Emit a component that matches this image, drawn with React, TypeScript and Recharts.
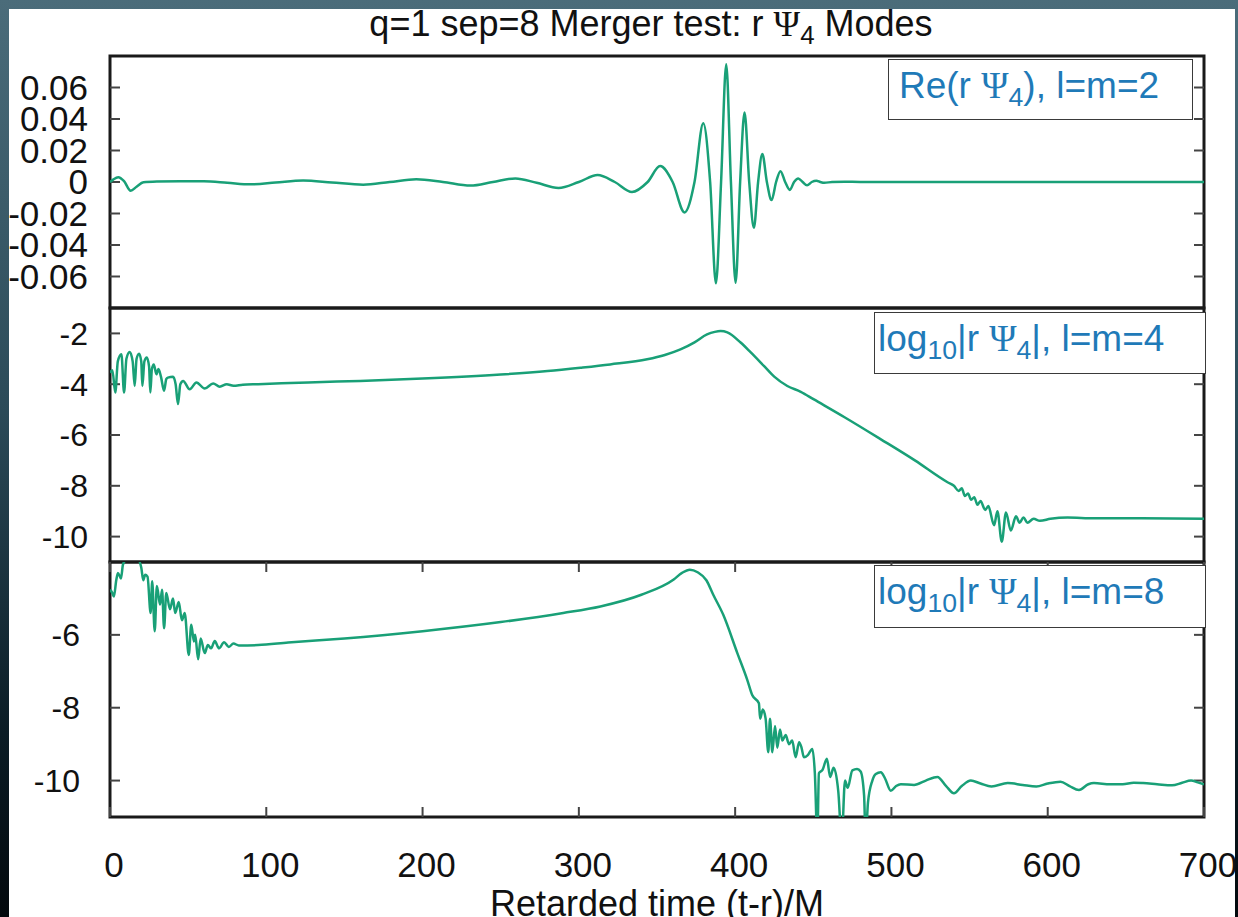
import { LineChart, Line, XAxis, YAxis, ReferenceArea, ReferenceLine } from 'recharts';

// ============================================================================
// Data (t = retarded time, v = value)
// ============================================================================

type Pt = [number, number];

const X_DOMAIN: [number, number] = [0, 700];
const X_TICKS = [0, 100, 200, 300, 400, 500, 600, 700];

const RE22_TICKS = [-0.06, -0.04, -0.02, 0, 0.02, 0.04, 0.06];
const LM4_TICKS = [-10, -8, -6, -4, -2];
const LM8_TICKS = [-10, -8, -6];

// Re(r Psi4), l=m=2
const RE22: Pt[] = [
  [0, 0], [2, 0.0015], [5.3, 0.003], [9, 0.0005], [13.2, -0.0055], [17, -0.003], [21.4, -0.0002],
  [30, 0.0003], [45, 0.0005], [60, 0.0004], [75, -0.0005], [89.7, -0.0015], [106, -0.0003],
  [123.6, 0.001], [142, -0.0003], [162, -0.0017], [179, 0], [196, 0.0017], [213, 0],
  [230.6, -0.0023], [245, 0], [259.4, 0.0023], [273, -0.0005], [287, -0.0038], [300, 0],
  [312, 0.0044], [323, 0], [334, -0.0063], [344, 0], [352, 0.0101], [360, 0], [367.6, -0.0193],
  [374, 0], [379.6, 0.0373], [384, 0], [387.7, -0.0643], [391, 0], [394.3, 0.0747], [397.3, 0],
  [400.3, -0.064], [403.2, 0], [406, 0.0442], [409, 0], [412, -0.0291], [414.7, 0], [417.4, 0.0178],
  [420.3, 0], [423.3, -0.0115], [426.2, 0], [429, 0.0069], [432, 0], [435, -0.005], [437.7, 0],
  [440.4, 0.0023], [443.2, 0], [446, -0.0021], [449, 0], [452, 0.0008], [454.5, 0], [457, -0.0005],
  [462, 0], [470, 0.0002], [480, 0], [500, 0], [550, 0], [600, 0], [650, 0], [700, 0],
];

// log10|r Psi4|, l=m=4
const LM4: Pt[] = [
  [0, -3.55], [1.5, -3.45], [3.4, -4.33], [5, -3.1], [7.3, -2.82], [9, -4.33], [10.5, -3.0],
  [12.6, -2.73], [14.5, -3.1], [15.8, -4.07], [17, -3.0], [18.6, -2.8], [20, -3.1], [20.7, -4.07],
  [22, -3.1], [23.5, -2.95], [25, -3.3], [25.8, -4.33], [26.8, -3.4], [28, -3.22], [29.7, -3.61],
  [31, -3.4], [32.6, -3.7], [34.6, -4.26], [36, -3.8], [37, -3.74], [40.3, -3.71], [42, -4.0],
  [43.5, -4.78], [45, -4.0], [46.8, -3.87], [51, -4.2], [55.3, -3.93], [60.6, -4.17], [66, -3.97],
  [70.2, -4.1], [74.7, -4.0], [79, -4.06], [85, -4.02], [94.8, -4.0], [126.8, -3.93], [160, -3.87],
  [200, -3.78], [250, -3.62], [280, -3.48], [301, -3.35], [320, -3.22], [343.7, -3.02], [355, -2.85],
  [365, -2.63], [374, -2.35], [382, -2.04], [387, -1.94], [390.7, -1.91], [395, -1.96],
  [403.5, -2.36], [410, -2.75], [418.4, -3.28], [425, -3.7], [433.4, -4.07], [442, -4.3],
  [450.4, -4.6], [470, -5.3], [493, -6.16], [515, -7.0], [535.9, -7.86], [540, -8.0], [543, -8.2],
  [545, -8.1], [547, -8.4], [549, -8.3], [551, -8.55], [553, -8.45], [555, -8.75], [557, -8.6],
  [560, -8.95], [562, -8.8], [565.7, -9.55], [567.8, -9.0], [570.6, -10.2], [573.3, -9.05],
  [576.4, -9.76], [579.7, -9.2], [582, -9.45], [584.5, -9.25], [587, -9.45], [591, -9.3],
  [595, -9.38], [601.8, -9.3], [612.7, -9.25], [630, -9.28], [660, -9.28], [700, -9.3],
];

// log10|r Psi4|, l=m=8
const LM8: Pt[] = [
  [0, -4.76], [1.5, -4.85], [2.5, -4.95], [4, -4.5], [5.1, -4.3], [7, -4.45], [8.3, -4.07],
  [10, -3.95], [13, -3.9], [16, -3.95], [18, -3.95], [20, -4.15], [21.3, -4.5], [22.5, -4.35],
  [24, -4.4], [26, -5.4], [27, -4.53], [28.6, -5.9], [30, -4.66], [32, -5.17], [33.3, -4.76],
  [34.6, -5.82], [36, -4.85], [38.4, -5.3], [40.3, -5.0], [41.7, -5.4], [44, -5.1], [46, -5.6],
  [47.8, -5.4], [50.4, -6.55], [52, -5.72], [53.7, -6.18], [54.5, -6.0], [56.4, -6.67], [58, -6.1],
  [60.6, -6.5], [62.6, -6.28], [64.7, -6.37], [67, -6.17], [69.8, -6.37], [73, -6.2], [76, -6.33],
  [79, -6.24], [82.4, -6.29], [94.8, -6.28], [114, -6.21], [150, -6.1], [200, -5.9], [250, -5.65],
  [290, -5.4], [313.8, -5.22], [340, -4.9], [360.7, -4.48], [366, -4.3], [371, -4.21], [376, -4.28],
  [381.6, -4.5], [386, -4.9], [392.4, -5.45], [401.4, -6.5], [407.8, -7.24], [411, -7.66],
  [415.2, -7.88], [416, -8.3], [417.7, -8.05], [419.5, -8.3], [421.2, -9.22], [422.3, -8.3],
  [423.8, -9.22], [425.5, -8.5], [427, -9.1], [428.7, -8.6], [430.2, -8.9], [432.3, -8.75],
  [434.5, -9.0], [436.5, -8.9], [438.7, -9.36], [440.9, -8.95], [442.5, -9.1], [444, -9.36],
  [446.5, -9.3], [449.4, -9.13], [451, -9.8], [452.6, -11.6], [453.6, -9.8], [456, -9.7],
  [458.7, -9.4], [460.8, -9.9], [463, -9.65], [466, -10.3], [468.2, -11.6], [470.3, -10.0],
  [472, -10.2], [475, -9.72], [478, -9.68], [480.3, -9.75], [482.5, -10.4], [483.5, -11.6],
  [485, -10.6], [487.8, -10.0], [490, -9.82], [493.2, -9.77], [496, -9.95], [499.6, -10.28],
  [503, -10.15], [506, -10.1], [514.5, -10.12], [522, -10.0], [529.4, -9.9], [535, -10.15],
  [540, -10.35], [545, -10.15], [550.8, -10.0], [557, -10.08], [564, -10.16], [574.4, -10.07],
  [584, -10.12], [592.7, -10.16], [600, -10.08], [608.2, -10.03], [614, -10.15], [620, -10.26],
  [626, -10.1], [629.6, -10.07], [640, -10.1], [648, -10.1], [655, -10.06], [661, -10.07],
  [670, -10.1], [679.6, -10.13], [686, -10.06], [691.7, -10.0], [696, -10.05], [700, -10.1],
];

// ============================================================================
// Styles
// ============================================================================

const FONT = '"Liberation Sans", Arial, Helvetica, sans-serif';
const LINE_COLOR = '#19a077';
const KEY_COLOR = '#1f7ab8';
const FRAME_COLOR = '#1a1a1a';
const TICK_COLOR = '#444';
const BG = 'linear-gradient(180deg, #4b6c7a 0%, #2b4a58 45%, #0b1c25 80%, #03090d 100%)';

const W = 1238;
const PAD = 5;
const PLOT_W = 1094; // 110 .. 1204
const TICK_PX = 10;

// ============================================================================
// Panel
// ============================================================================

interface PanelProps {
  points: Pt[];
  top: number;
  plotHeight: number;
  yDomain: [number, number];
  yTicks: number[];
  labelSize: number;
  labelGap: number;
  showX?: boolean;
}

function Panel({ points, top, plotHeight, yDomain, yTicks, labelSize, labelGap, showX }: PanelProps) {
  const data = points.map(([t, v]) => ({ t, v }));
  const xHeight = showX ? 80 : 0;
  const [y0, y1] = yDomain;
  // inward tick length (10px) expressed in each axis' units
  const dx = (TICK_PX * (X_DOMAIN[1] - X_DOMAIN[0])) / PLOT_W;
  const dy = (TICK_PX * (y1 - y0)) / plotHeight;

  return (
    <div style={{ position: 'absolute', left: 0, top: top - PAD }}>
      <LineChart
        width={W}
        height={PAD + plotHeight + (showX ? xHeight : PAD)}
        data={data}
        margin={{ top: PAD, right: 34, bottom: showX ? 0 : PAD, left: 10 }}
      >
        <XAxis
          xAxisId="b"
          dataKey="t"
          type="number"
          domain={X_DOMAIN}
          ticks={X_TICKS}
          interval={0}
          allowDataOverflow
          hide={!showX}
          height={xHeight}
          axisLine={false}
          tickLine={false}
          tickSize={0}
          tickMargin={35}
          tick={{ fontSize: 35, fill: '#111', fontFamily: FONT, dx: 4 }}
        />
        <YAxis
          yAxisId="l"
          type="number"
          domain={yDomain}
          ticks={yTicks}
          interval={0}
          allowDataOverflow
          width={100}
          axisLine={false}
          tickLine={false}
          tickSize={0}
          tickMargin={labelGap}
          tick={{ fontSize: labelSize, fill: '#111', fontFamily: FONT }}
        />

        {/* inward ticks, left and right */}
        {yTicks.map((v) => (
          <ReferenceLine
            key={`yl${v}`}
            xAxisId="b"
            yAxisId="l"
            segment={[{ x: X_DOMAIN[0], y: v }, { x: X_DOMAIN[0] + dx, y: v }]}
            stroke={TICK_COLOR}
            strokeWidth={2}
          />
        ))}
        {yTicks.map((v) => (
          <ReferenceLine
            key={`yr${v}`}
            xAxisId="b"
            yAxisId="l"
            segment={[{ x: X_DOMAIN[1] - dx, y: v }, { x: X_DOMAIN[1], y: v }]}
            stroke={TICK_COLOR}
            strokeWidth={2}
          />
        ))}
        {/* inward ticks, bottom and top (only on the lowest panel) */}
        {showX &&
          X_TICKS.map((t) => (
            <ReferenceLine
              key={`xb${t}`}
              xAxisId="b"
              yAxisId="l"
              segment={[{ x: t, y: y0 }, { x: t, y: y0 + dy }]}
              stroke={TICK_COLOR}
              strokeWidth={2}
            />
          ))}
        {showX &&
          X_TICKS.map((t) => (
            <ReferenceLine
              key={`xt${t}`}
              xAxisId="b"
              yAxisId="l"
              segment={[{ x: t, y: y1 - dy }, { x: t, y: y1 }]}
              stroke={TICK_COLOR}
              strokeWidth={2}
            />
          ))}

        <Line
          xAxisId="b"
          yAxisId="l"
          dataKey="v"
          type="monotone"
          stroke={LINE_COLOR}
          strokeWidth={2.5}
          dot={false}
          activeDot={false}
          isAnimationActive={false}
        />

        {/* frame */}
        <ReferenceArea
          xAxisId="b"
          yAxisId="l"
          x1={X_DOMAIN[0]}
          x2={X_DOMAIN[1]}
          y1={y0}
          y2={y1}
          fill="none"
          fillOpacity={0}
          stroke={FRAME_COLOR}
          strokeWidth={3}
          strokeOpacity={1}
          ifOverflow="visible"
        />
      </LineChart>
    </div>
  );
}

// ============================================================================
// Key boxes
// ============================================================================

const sub = { fontSize: '0.72em', verticalAlign: '-0.3em', lineHeight: 0 } as const;
const psi = { fontFamily: '"Liberation Serif", "DejaVu Serif", serif' };

function KeyBox({ left, top, width, height, padLeft, children }: {
  left: number; top: number; width: number; height: number; padLeft: number; children: React.ReactNode;
}) {
  return (
    <div
      style={{
        position: 'absolute',
        left,
        top,
        width,
        height,
        boxSizing: 'border-box',
        border: '1.5px solid #3a3a3a',
        background: '#fff',
        color: KEY_COLOR,
        fontFamily: FONT,
        fontSize: 37,
        lineHeight: '52px',
        paddingLeft: padLeft,
        whiteSpace: 'nowrap',
      }}
    >
      {children}
    </div>
  );
}

// ============================================================================
// App
// ============================================================================

export default function App() {
  return (
    <div style={{ position: 'absolute', left: 0, top: 0, width: W, height: 917, overflow: 'hidden', background: BG }}>
      <div style={{ position: 'absolute', left: 9, top: 9, width: 1226, height: 908, background: '#fff' }} />

      <div
        style={{
          position: 'absolute', left: 51, top: 6, width: 1200, textAlign: 'center',
          fontFamily: FONT, fontSize: 36, lineHeight: '36px', color: '#111', whiteSpace: 'nowrap',
        }}
      >
        q=1 sep=8 Merger test: r <span style={psi}>Ψ</span><span style={sub}>4</span> Modes
      </div>

      <Panel points={RE22} top={56} plotHeight={252} yDomain={[-0.08, 0.08]} yTicks={RE22_TICKS} labelSize={35} labelGap={22} />
      <Panel points={LM4} top={308} plotHeight={254} yDomain={[-11, -1]} yTicks={LM4_TICKS} labelSize={32} labelGap={22} />
      <Panel points={LM8} top={562} plotHeight={255} yDomain={[-11, -4]} yTicks={LM8_TICKS} labelSize={32} labelGap={30} showX />

      <KeyBox left={888} top={59} width={305} height={61} padLeft={10}>
        Re(r <span style={psi}>Ψ</span><span style={sub}>4</span>), l=m=2
      </KeyBox>
      <KeyBox left={874} top={312} width={332} height={62} padLeft={3}>
        log<span style={sub}>10</span>|r <span style={psi}>Ψ</span><span style={sub}>4</span>|, l=m=4
      </KeyBox>
      <KeyBox left={874} top={565} width={332} height={63} padLeft={3}>
        log<span style={sub}>10</span>|r <span style={psi}>Ψ</span><span style={sub}>4</span>|, l=m=8
      </KeyBox>

      <div
        style={{
          position: 'absolute', left: 157, top: 886, width: 1000, textAlign: 'center',
          fontFamily: FONT, fontSize: 36, lineHeight: '36px', color: '#111', whiteSpace: 'nowrap',
        }}
      >
        Retarded time (t-r)/M
      </div>

      <div style={{ position: 'absolute', left: 0, top: 0, width: 9, height: 917, background: BG }} />
      <div style={{ position: 'absolute', left: 1235, top: 0, width: 3, height: 917, background: BG }} />
    </div>
  );
}
